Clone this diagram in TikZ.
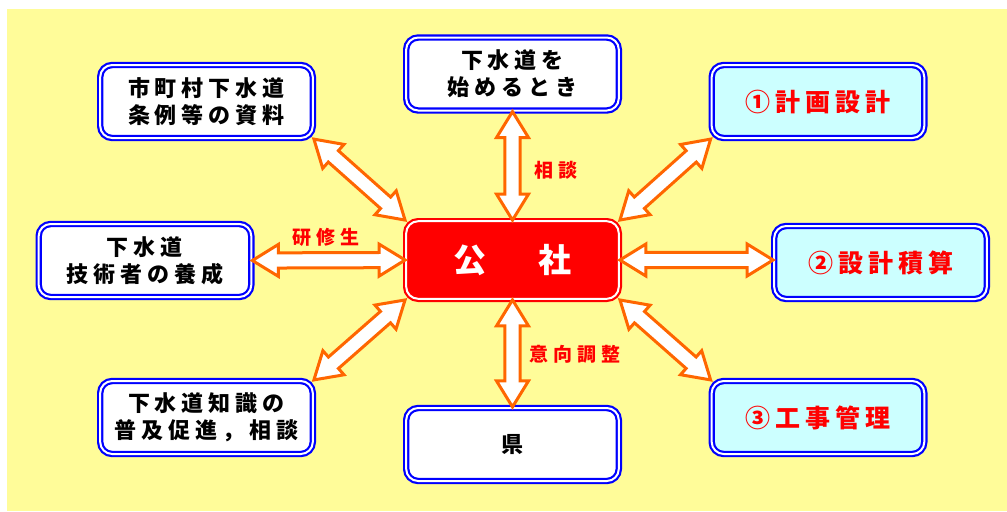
\documentclass[tikz,border=0pt]{standalone}
\usepackage{fontspec}
\setmainfont{Noto Sans CJK JP}
\usetikzlibrary{calc}

\definecolor{bgyellow}{RGB}{255,252,153}
\definecolor{boxblue}{RGB}{0,0,255}
\definecolor{workcyan}{RGB}{204,255,255}
\definecolor{arroworange}{RGB}{255,102,0}

% letter spaced text
\newcommand{\spaced}[2][2.5pt]{\def\sgap{#1}\spacedi#2\relax}
\def\spacedi#1{\ifx#1\relax\unskip\else#1\hskip\sgap\relax\expandafter\spacedi\fi}

% double headed block arrow between two points
\newcommand{\biarrow}[2]{%
  \draw[blockarrow] let \p1=(#1), \p2=(#2),
    \n1={atan2(\y2-\y1,\x2-\x1)}, \n2={veclen(\x2-\x1,\y2-\y1)} in
    [shift={(\p1)}, rotate=\n1]
    (0pt,0pt) -- (13pt,8pt) -- (13pt,3.8pt) -- (\n2-13pt,3.8pt) -- (\n2-13pt,8pt)
    -- (\n2,0pt) -- (\n2-13pt,-8pt) -- (\n2-13pt,-3.8pt) -- (13pt,-3.8pt) -- (13pt,-8pt) -- cycle;}

\begin{document}
\begin{tikzpicture}[x=0.5pt, y=-0.5pt,
  infobox/.style={draw=boxblue, double=white, double distance=1pt, line width=1.1pt,
    fill=white, rounded corners=6pt, minimum width=106.3pt, minimum height=36.5pt,
    inner sep=0pt, align=center, font=\bfseries\fontsize{11}{13.5}\selectfont},
  workbox/.style={infobox, fill=workcyan, text=red, font=\bfseries\fontsize{12.5}{15}\selectfont},
  mainbox/.style={infobox, draw=red, fill=red, text=white, minimum height=38.8pt,
    font=\bfseries\fontsize{16.5}{20}\selectfont},
  lbl/.style={text=red, inner sep=0pt, font=\bfseries\fontsize{9.5}{11}\selectfont},
  blockarrow/.style={draw=arroworange, fill=white, line width=1.5pt, line join=miter}]

  \fill[bgyellow] (7,9) rectangle (1007,511);
  \useasboundingbox (0,0) rectangle (1007,511);

  \node[mainbox] (kosha) at (512.5,260) {公\hspace{1.6em}社};

  \node[infobox] (start) at (512.5,74) {\spaced{下水道を}\\\spaced{始めるとき}};
  \node[infobox] (jorei) at (206.5,101.5) {\spaced{市町村下水道}\\\spaced{条例等の資料}};
  \node[infobox] (gijutsu) at (145,260.5) {\spaced{下水道}\\\spaced{技術者の養成}};
  \node[infobox] (fukyu) at (206.5,417.5) {\spaced{下水道知識の}\\\spaced{普及促進，相談}};
  \node[infobox] (ken) at (512.5,444.5) {県};

  \node[workbox] (keikaku) at (818,101.5) {\spaced{①計画設計}};
  \node[workbox] (sekisan) at (880.5,262.5) {\spaced{②設計積算}};
  \node[workbox] (kouji) at (818,417.5) {\spaced{③工事管理}};

  \biarrow{start.south}{kosha.north}
  \biarrow{ken.north}{kosha.south}
  \biarrow{gijutsu.east}{kosha.west}
  \biarrow{kosha.east}{kosha.east -| sekisan.west}
  \biarrow{jorei.south east}{kosha.north west}
  \biarrow{keikaku.south west}{kosha.north east}
  \biarrow{fukyu.north east}{kosha.south west}
  \biarrow{kouji.north west}{kosha.south east}

  \node[lbl] (soudan) at (556,170) {\spaced{相談}};
  \node[lbl] (kenshu) at (326,237) {\spaced{研修生}};
  \node[lbl] (ikou) at (575,354) {\spaced{意向調整}};
\end{tikzpicture}
\end{document}
